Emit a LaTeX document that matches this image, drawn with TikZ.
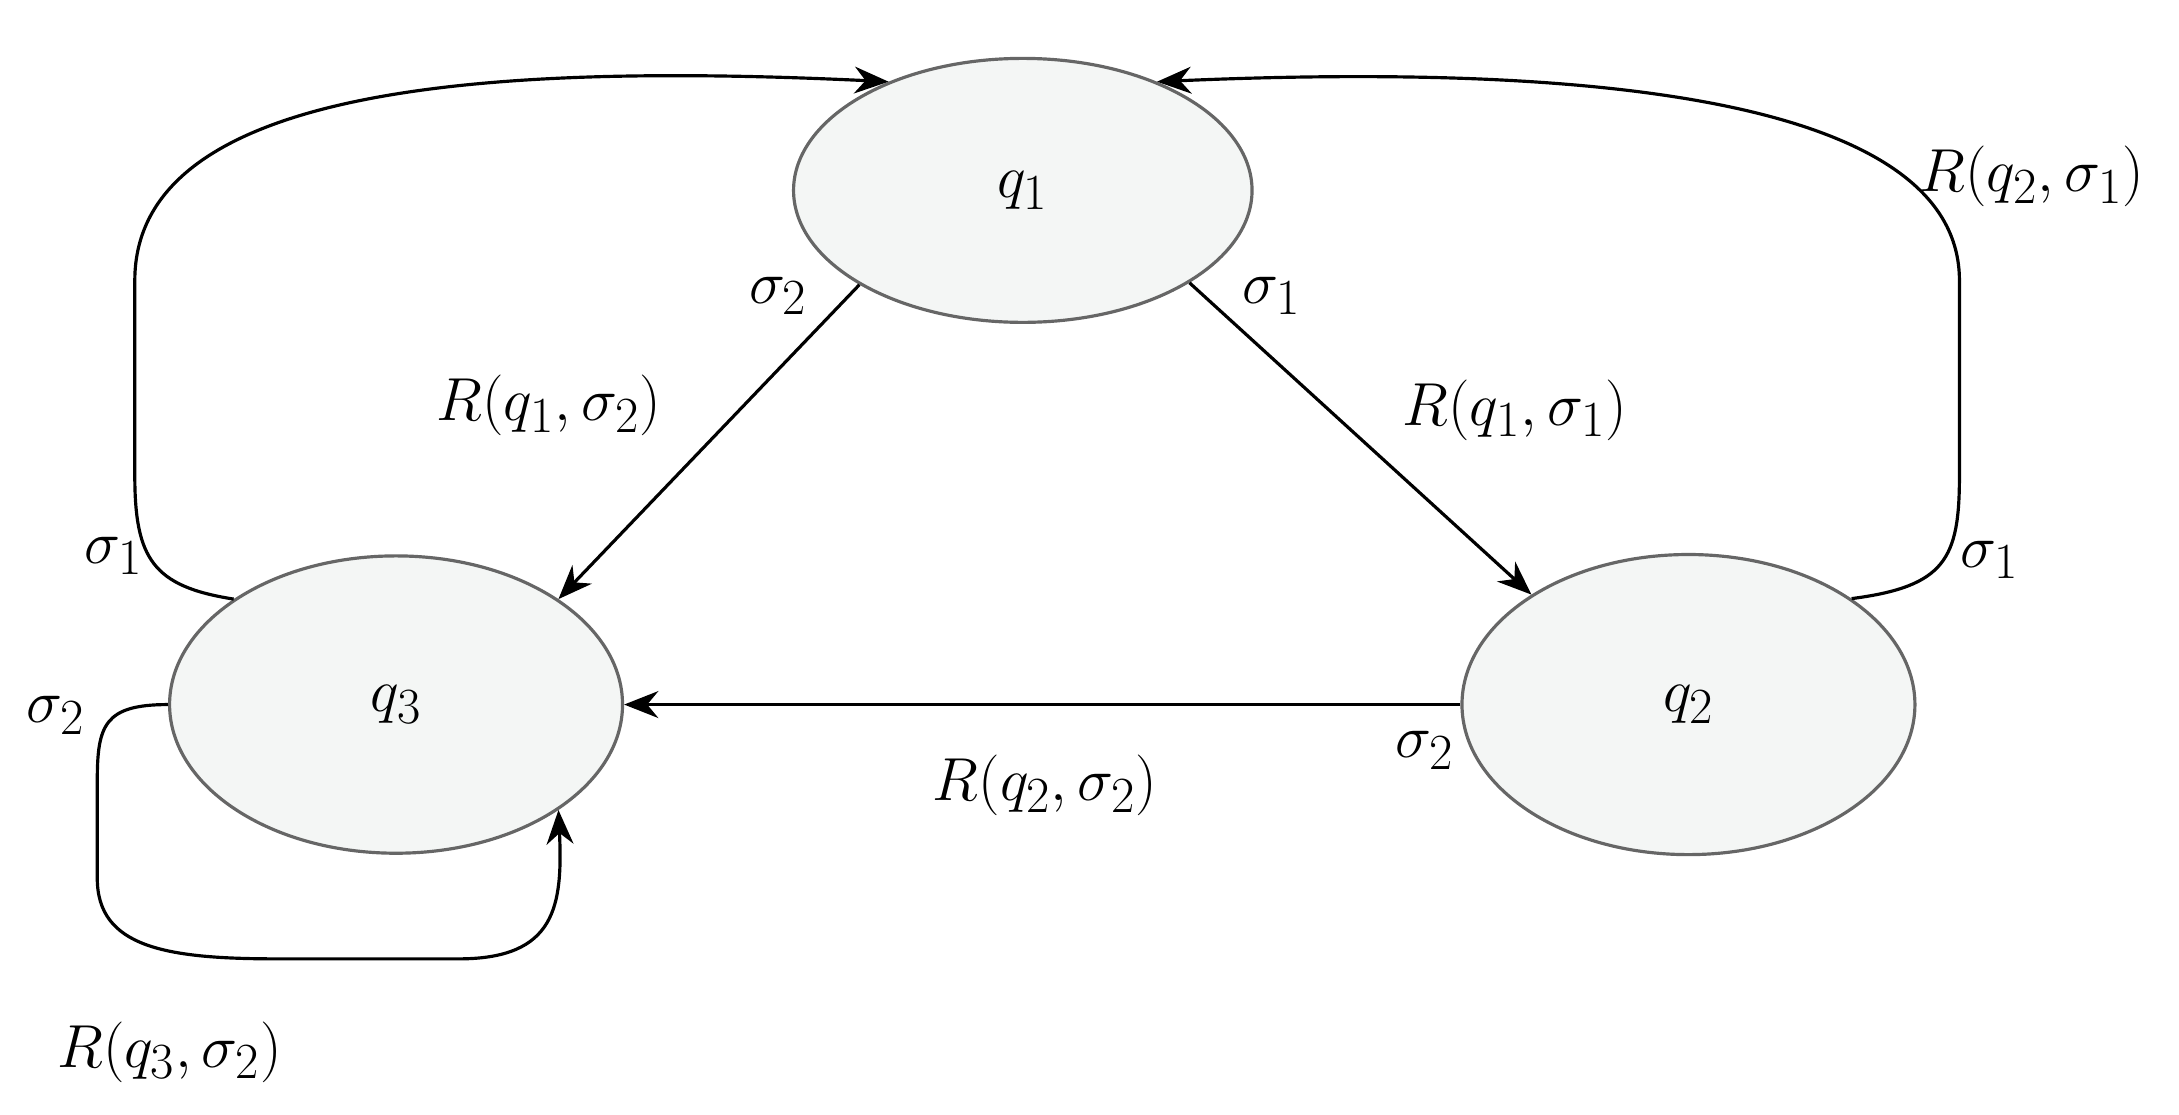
\documentclass[tikz,border=0pt]{standalone}
\usetikzlibrary{arrows.meta,shapes.geometric}
\begin{document}
\begin{tikzpicture}[x=0.02cm,y=0.02cm,
  st/.style={ellipse,draw=black!60,line width=1.3pt,fill={rgb,255:red,244;green,246;blue,245},inner sep=0pt},
  lab/.style={font=\fontsize{30}{36}\selectfont},
  ed/.style={line width=1.3pt,-{Stealth[length=14pt,width=11pt]}}]
\useasboundingbox (0,0) rectangle (1568,802);
\node[st,minimum width=6.6cm,minimum height=3.8cm] (q1) at (736,665) {\fontsize{30}{36}\selectfont$q_1$};
\node[st,minimum width=6.52cm,minimum height=4.28cm] (q3) at (285,295) {\fontsize{30}{36}\selectfont$q_3$};
\node[st,minimum width=6.52cm,minimum height=4.32cm] (q2) at (1215,295) {\fontsize{30}{36}\selectfont$q_2$};
\draw[ed] (q1.-29.4) -- (q2.145.5);
\draw[ed] (q1.210.4) -- (q3.33.4);
\draw[ed] (q2.west) -- (q3.east);
\draw[ed] (q3.147) .. controls (110,380) and (97,400) .. (97,460) -- (97,600) .. controls (97,740) and (350,757) .. (q1.141.6);
\draw[ed] (q2.33.4) .. controls (1400,380) and (1410,400) .. (1410,460) -- (1410,600) .. controls (1410,730) and (1150,757) .. (q1.39);
\draw[ed] (q3.west) .. controls (75,295) and (70,280) .. (70,240) -- (70,170) .. controls (70,120) and (120,112) .. (200,112) -- (330,112) .. controls (400,112) and (405,150) .. (q3.-33);
\node[lab] (l1) at (82,402) {$\sigma_1$};
\node[lab] (l2) at (40,287) {$\sigma_2$};
\node[lab] (l3) at (122,45) {$R(q_3,\sigma_2)$};
\node[lab] (l4) at (560,589) {$\sigma_2$};
\node[lab] (l5) at (395,510) {$R(q_1,\sigma_2)$};
\node[lab] (l6) at (915,589) {$\sigma_1$};
\node[lab] (l7) at (1090,507) {$R(q_1,\sigma_1)$};
\node[lab] (l8) at (1025,262) {$\sigma_2$};
\node[lab] (l9) at (752,237) {$R(q_2,\sigma_2)$};
\node[lab] (l10) at (1432,399) {$\sigma_1$};
\node[lab] (l11) at (1462,675) {$R(q_2,\sigma_1)$};
\end{tikzpicture}
\end{document}
